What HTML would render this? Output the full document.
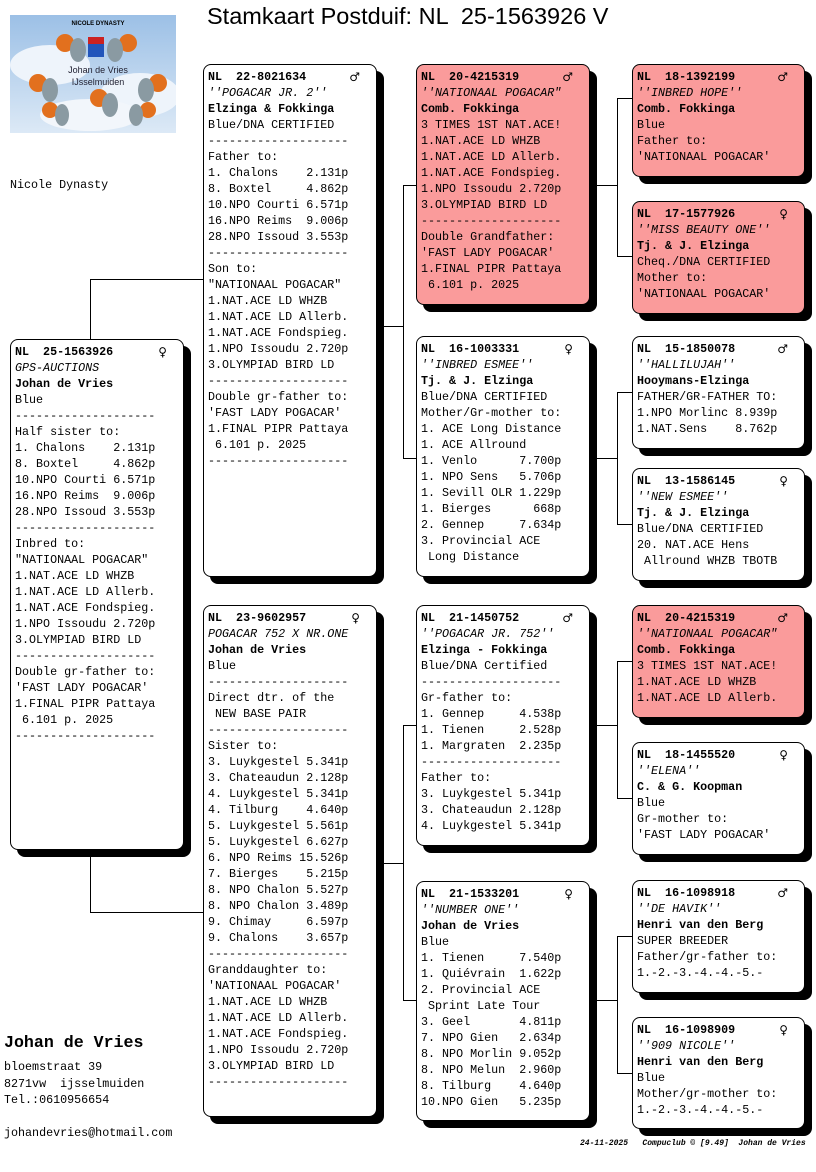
<!DOCTYPE html>
<html><head><meta charset="utf-8"><style>
body{margin:0;width:816px;height:1172px;position:relative;background:#fff;overflow:hidden;font-family:"Liberation Mono","Courier New",monospace;}
.b{position:absolute;background:#fff;border:1px solid #000;border-radius:8px;box-shadow:7px 7px 0 #000;box-sizing:border-box;padding:4px 0 0 4px;font-size:11.7px;line-height:16px;white-space:pre;color:#000;}
.r{background:#fa9b9b;}
.b b{font-weight:bold}
.b i{font-style:italic}
.g{position:absolute;right:16px;top:4px;font-weight:bold;font-family:"DejaVu Sans",sans-serif;font-size:12px}
.h{position:absolute;background:#000;height:1px}
.v{position:absolute;background:#000;width:1px}
.t{position:absolute;white-space:pre}
</style></head><body>
<div class="t" style="left:207px;top:3px;font-family:'Liberation Sans',sans-serif;font-size:23.5px">Stamkaart Postduif: NL  25-1563926 V</div>

<svg style="position:absolute;left:10px;top:15px" width="166" height="118">
<defs><linearGradient id="sk" x1="0" y1="0" x2="0" y2="1"><stop offset="0" stop-color="#9cc0e6"/><stop offset="1" stop-color="#dce9f6"/></linearGradient></defs>
<rect width="166" height="118" fill="url(#sk)"/>
<ellipse cx="40" cy="50" rx="40" ry="20" fill="#eef4fb"/><ellipse cx="130" cy="80" rx="40" ry="22" fill="#eef4fb"/><ellipse cx="80" cy="100" rx="50" ry="16" fill="#f2f6fb"/>
<g fill="#e2701e"><circle cx="55" cy="28" r="9"/><circle cx="118" cy="28" r="9"/><circle cx="28" cy="68" r="9"/><circle cx="148" cy="68" r="9"/><circle cx="89" cy="83" r="9"/><circle cx="40" cy="95" r="8"/><circle cx="138" cy="95" r="8"/></g>
<g fill="#8a9aa2"><ellipse cx="68" cy="35" rx="8" ry="12"/><ellipse cx="105" cy="35" rx="8" ry="12"/><ellipse cx="40" cy="75" rx="8" ry="12"/><ellipse cx="136" cy="75" rx="8" ry="12"/><ellipse cx="100" cy="90" rx="8" ry="12"/><ellipse cx="52" cy="100" rx="7" ry="11"/><ellipse cx="126" cy="100" rx="7" ry="11"/></g>
<rect x="78" y="22" width="16" height="20" fill="#2255bb"/><rect x="78" y="22" width="16" height="7" fill="#cc2222"/>
<text x="88" y="10" font-size="6" text-anchor="middle" font-family="Liberation Sans" font-weight="bold">NICOLE DYNASTY</text>
<text x="88" y="58" font-size="9" text-anchor="middle" font-family="Liberation Sans" fill="#223">Johan de Vries</text>
<text x="88" y="70" font-size="9" text-anchor="middle" font-family="Liberation Sans" fill="#223">IJsselmuiden</text>
</svg>
<div class="t" style="left:10px;top:178px;font-size:11.7px">Nicole Dynasty</div>

<!-- connectors -->
<div class="v" style="left:90px;top:279px;height:60px"></div>
<div class="h" style="left:90px;top:279px;width:113px"></div>
<div class="v" style="left:90px;top:850px;height:62px"></div>
<div class="h" style="left:90px;top:912px;width:113px"></div>
<div class="v" style="left:403px;top:185px;height:274px"></div>
<div class="h" style="left:377px;top:326px;width:26px"></div>
<div class="h" style="left:403px;top:185px;width:13px"></div>
<div class="h" style="left:403px;top:458px;width:13px"></div>
<div class="v" style="left:403px;top:725px;height:276px"></div>
<div class="h" style="left:377px;top:863px;width:26px"></div>
<div class="h" style="left:403px;top:725px;width:13px"></div>
<div class="h" style="left:403px;top:1000px;width:13px"></div>
<div class="v" style="left:617px;top:98px;height:158px"></div>
<div class="h" style="left:590px;top:185px;width:27px"></div>
<div class="h" style="left:617px;top:98px;width:15px"></div>
<div class="h" style="left:617px;top:256px;width:15px"></div>
<div class="v" style="left:617px;top:392px;height:132px"></div>
<div class="h" style="left:590px;top:458px;width:27px"></div>
<div class="h" style="left:617px;top:392px;width:15px"></div>
<div class="h" style="left:617px;top:524px;width:15px"></div>
<div class="v" style="left:617px;top:661px;height:137px"></div>
<div class="h" style="left:590px;top:725px;width:27px"></div>
<div class="h" style="left:617px;top:661px;width:15px"></div>
<div class="h" style="left:617px;top:798px;width:15px"></div>
<div class="v" style="left:617px;top:936px;height:137px"></div>
<div class="h" style="left:590px;top:1000px;width:27px"></div>
<div class="h" style="left:617px;top:936px;width:15px"></div>
<div class="h" style="left:617px;top:1073px;width:15px"></div>

<!-- main -->
<div class="b" style="left:10px;top:339px;width:174px;height:511px"><span class="g">♀</span><b>NL  25-1563926</b>
<i>GPS-AUCTIONS</i>
<b>Johan de Vries</b>
Blue
--------------------
Half sister to:
1. Chalons    2.131p
8. Boxtel     4.862p
10.NPO Courti 6.571p
16.NPO Reims  9.006p
28.NPO Issoud 3.553p
--------------------
Inbred to:
"NATIONAAL POGACAR"
1.NAT.ACE LD WHZB
1.NAT.ACE LD Allerb.
1.NAT.ACE Fondspieg.
1.NPO Issoudu 2.720p
3.OLYMPIAD BIRD LD
--------------------
Double gr-father to:
'FAST LADY POGACAR'
1.FINAL PIPR Pattaya
 6.101 p. 2025
--------------------</div>

<!-- col2 -->
<div class="b" style="left:203px;top:64px;width:174px;height:513px"><span class="g">♂</span><b>NL  22-8021634</b>
<i>''POGACAR JR. 2''</i>
<b>Elzinga &amp; Fokkinga</b>
Blue/DNA CERTIFIED
--------------------
Father to:
1. Chalons    2.131p
8. Boxtel     4.862p
10.NPO Courti 6.571p
16.NPO Reims  9.006p
28.NPO Issoud 3.553p
--------------------
Son to:
"NATIONAAL POGACAR"
1.NAT.ACE LD WHZB
1.NAT.ACE LD Allerb.
1.NAT.ACE Fondspieg.
1.NPO Issoudu 2.720p
3.OLYMPIAD BIRD LD
--------------------
Double gr-father to:
'FAST LADY POGACAR'
1.FINAL PIPR Pattaya
 6.101 p. 2025
--------------------</div>
<div class="b" style="left:203px;top:605px;width:174px;height:512px"><span class="g">♀</span><b>NL  23-9602957</b>
<i>POGACAR 752 X NR.ONE</i>
<b>Johan de Vries</b>
Blue
--------------------
Direct dtr. of the
 NEW BASE PAIR
--------------------
Sister to:
3. Luykgestel 5.341p
3. Chateaudun 2.128p
4. Luykgestel 5.341p
4. Tilburg    4.640p
5. Luykgestel 5.561p
5. Luykgestel 6.627p
6. NPO Reims 15.526p
7. Bierges    5.215p
8. NPO Chalon 5.527p
8. NPO Chalon 3.489p
9. Chimay     6.597p
9. Chalons    3.657p
--------------------
Granddaughter to:
'NATIONAAL POGACAR'
1.NAT.ACE LD WHZB
1.NAT.ACE LD Allerb.
1.NAT.ACE Fondspieg.
1.NPO Issoudu 2.720p
3.OLYMPIAD BIRD LD
--------------------</div>

<!-- col3 -->
<div class="b r" style="left:416px;top:64px;width:174px;height:241px"><span class="g">♂</span><b>NL  20-4215319</b>
<i>''NATIONAAL POGACAR"</i>
<b>Comb. Fokkinga</b>
3 TIMES 1ST NAT.ACE!
1.NAT.ACE LD WHZB
1.NAT.ACE LD Allerb.
1.NAT.ACE Fondspieg.
1.NPO Issoudu 2.720p
3.OLYMPIAD BIRD LD
--------------------
Double Grandfather:
'FAST LADY POGACAR'
1.FINAL PIPR Pattaya
 6.101 p. 2025</div>
<div class="b" style="left:416px;top:336px;width:174px;height:241px"><span class="g">♀</span><b>NL  16-1003331</b>
<i>''INBRED ESMEE''</i>
<b>Tj. &amp; J. Elzinga</b>
Blue/DNA CERTIFIED
Mother/Gr-mother to:
1. ACE Long Distance
1. ACE Allround
1. Venlo      7.700p
1. NPO Sens   5.706p
1. Sevill OLR 1.229p
1. Bierges      668p
2. Gennep     7.634p
3. Provincial ACE
 Long Distance</div>
<div class="b" style="left:416px;top:605px;width:174px;height:241px"><span class="g">♂</span><b>NL  21-1450752</b>
<i>''POGACAR JR. 752''</i>
<b>Elzinga - Fokkinga</b>
Blue/DNA Certified
--------------------
Gr-father to:
1. Gennep     4.538p
1. Tienen     2.528p
1. Margraten  2.235p
--------------------
Father to:
3. Luykgestel 5.341p
3. Chateaudun 2.128p
4. Luykgestel 5.341p</div>
<div class="b" style="left:416px;top:881px;width:174px;height:240px"><span class="g">♀</span><b>NL  21-1533201</b>
<i>''NUMBER ONE''</i>
<b>Johan de Vries</b>
Blue
1. Tienen     7.540p
1. Quiévrain  1.622p
2. Provincial ACE
 Sprint Late Tour
3. Geel       4.811p
7. NPO Gien   2.634p
8. NPO Morlin 9.052p
8. NPO Melun  2.960p
8. Tilburg    4.640p
10.NPO Gien   5.235p</div>

<!-- col4 -->
<div class="b r" style="left:632px;top:64px;width:173px;height:113px"><span class="g">♂</span><b>NL  18-1392199</b>
<i>''INBRED HOPE''</i>
<b>Comb. Fokkinga</b>
Blue
Father to:
'NATIONAAL POGACAR'</div>
<div class="b r" style="left:632px;top:201px;width:173px;height:113px"><span class="g">♀</span><b>NL  17-1577926</b>
<i>''MISS BEAUTY ONE''</i>
<b>Tj. &amp; J. Elzinga</b>
Cheq./DNA CERTIFIED
Mother to:
'NATIONAAL POGACAR'</div>
<div class="b" style="left:632px;top:336px;width:173px;height:113px"><span class="g">♂</span><b>NL  15-1850078</b>
<i>''HALLILUJAH''</i>
<b>Hooymans-Elzinga</b>
FATHER/GR-FATHER TO:
1.NPO Morlinc 8.939p
1.NAT.Sens    8.762p</div>
<div class="b" style="left:632px;top:468px;width:173px;height:113px"><span class="g">♀</span><b>NL  13-1586145</b>
<i>''NEW ESMEE''</i>
<b>Tj. &amp; J. Elzinga</b>
Blue/DNA CERTIFIED
20. NAT.ACE Hens
 Allround WHZB TBOTB</div>
<div class="b r" style="left:632px;top:605px;width:173px;height:113px"><span class="g">♂</span><b>NL  20-4215319</b>
<i>''NATIONAAL POGACAR"</i>
<b>Comb. Fokkinga</b>
3 TIMES 1ST NAT.ACE!
1.NAT.ACE LD WHZB
1.NAT.ACE LD Allerb.</div>
<div class="b" style="left:632px;top:742px;width:173px;height:113px"><span class="g">♀</span><b>NL  18-1455520</b>
<i>''ELENA''</i>
<b>C. &amp; G. Koopman</b>
Blue
Gr-mother to:
'FAST LADY POGACAR'</div>
<div class="b" style="left:632px;top:880px;width:173px;height:113px"><span class="g">♂</span><b>NL  16-1098918</b>
<i>''DE HAVIK''</i>
<b>Henri van den Berg</b>
SUPER BREEDER
Father/gr-father to:
1.-2.-3.-4.-4.-5.-</div>
<div class="b" style="left:632px;top:1017px;width:173px;height:112px"><span class="g">♀</span><b>NL  16-1098909</b>
<i>''909 NICOLE''</i>
<b>Henri van den Berg</b>
Blue
Mother/gr-mother to:
1.-2.-3.-4.-4.-5.-</div>

<div class="t" style="left:4px;top:1033px;font-size:16.6px;font-weight:bold">Johan de Vries</div>
<div class="t" style="left:4px;top:1059px;font-size:11.7px;line-height:16.5px">bloemstraat 39
8271vw  ijsselmuiden
Tel.:0610956654

johandevries@hotmail.com</div>
<div class="t" style="left:580px;top:1139px;font-size:8px;font-style:italic;font-weight:bold">24-11-2025   Compuclub © [9.49]  Johan de Vries</div>
</body></html>
